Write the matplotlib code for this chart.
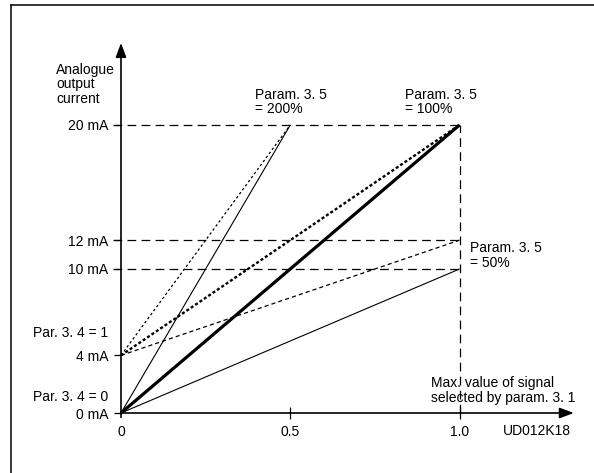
import matplotlib
matplotlib.use("Agg")

import matplotlib.pyplot as plt
from matplotlib.lines import Line2D

plt.rcParams["font.family"] = ["Liberation Sans", "DejaVu Sans"]
plt.rcParams["lines.scale_dashes"] = False

# Datos del grafico (senal normalizada -> corriente de salida en mA)
scale_labels = ["200%", "100%", "50%"]
signal_end = [0.5, 1.0, 1.0]
out_end_zero = [20, 20, 10]   # Par. 3.4 = 0 (0 mA)
out_end_live = [20, 20, 12]   # Par. 3.4 = 1 (4 mA)
offsets = [0, 4]

y_ticks = [0, 4, 10, 12, 20]
y_tick_labels = ["0 mA", "4 mA", "10 mA", "12 mA", "20 mA"]
x_ticks = [0, 0.5, 1.0]
x_tick_labels = ["0", "0.5", "1.0"]
guide_levels = [20, 12, 10]

FS = 10
LS = 1.08

fig = plt.figure(figsize=(5.94, 4.73), dpi=100)
ax = fig.add_axes([121 / 594, 60 / 473, 338.5 / 594, 288 / 473])
ax.set_xlim(0, 1)
ax.set_ylim(0, 20)
for s in ax.spines.values():
    s.set_visible(False)

# lineas guia discontinuas
for lvl in guide_levels:
    ax.plot([-0.024, 1.0], [lvl, lvl], color="k", lw=0.9,
            linestyle=(0, (6.3, 3.8)), clip_on=False)
ax.plot([1.0, 1.0], [0, 20], color="k", lw=0.9, linestyle=(0, (6.3, 3.8)), clip_on=False)

# curvas con offset 0 mA (continuas)
zero_widths = [0.8, 2.3, 0.8]
for xe, ye, w in zip(signal_end, out_end_zero, zero_widths):
    ax.plot([0, xe], [offsets[0], ye], color="k", lw=w, solid_capstyle="butt", clip_on=False)

# curvas con offset 4 mA (punteadas)
live_styles = [(0.9, (1.8, 1.8)), (1.7, (2.2, 1.6)), (0.9, (3.0, 2.2))]
for xe, ye, (w, dash) in zip(signal_end, out_end_live, live_styles):
    ax.plot([0, xe], [offsets[1], ye], color="k", lw=w, linestyle=(0, dash), clip_on=False)

# ejes con flechas
arrow = dict(arrowstyle="-|>,head_length=0.43,head_width=0.16", mutation_scale=20,
             lw=1.2, color="k", shrinkA=0, shrinkB=0)
ax.annotate("", xy=(0, 25.7), xytext=(0, -0.3), arrowprops=arrow, annotation_clip=False)
ax.annotate("", xy=(1.338, 0), xytext=(0, 0), arrowprops=arrow, annotation_clip=False)

ax.set_yticks(y_ticks)
ax.set_yticklabels(y_tick_labels)
ax.set_xticks(x_ticks)
ax.set_xticklabels(x_tick_labels)
ax.tick_params(axis="y", direction="out", length=5, width=0.9, pad=4.3, labelsize=FS)
ax.tick_params(axis="x", direction="inout", length=8.6, width=0.9, pad=4, labelsize=FS)
ax.xaxis.get_major_ticks()[0].tick1line.set_visible(False)

# textos
def px(x, y):
    return (x - 121) / 338.5, (413 - y) / 14.4

ax.text(*px(56, 84.5), "Analogue\noutput\ncurrent", fontsize=FS, ha="left", va="center",
        linespacing=LS, clip_on=False)
for lbl, x0 in zip(scale_labels[:2], [255, 405]):
    ax.text(*px(x0, 102), "Param. 3. 5\n= " + lbl, fontsize=FS, ha="left", va="center",
            linespacing=LS, clip_on=False)
ax.text(*px(469.5, 255.5), "Param. 3. 5\n= " + scale_labels[2], fontsize=FS, ha="left",
        va="center", linespacing=LS, clip_on=False)
ax.text(*px(431, 390.5), "Max. value of signal\nselected by param. 3. 1", fontsize=FS,
        ha="left", va="center", linespacing=LS, clip_on=False)
ax.text(*px(108, 333), "Par. 3. 4 = 1", fontsize=FS, ha="right", va="center", clip_on=False)
ax.text(*px(108, 397), "Par. 3. 4 = 0", fontsize=FS, ha="right", va="center", clip_on=False)
ax.text(*px(503, 431), "UD012K18", fontsize=FS, ha="left", va="center", clip_on=False)

# marco
fig.add_artist(Line2D([11 / 594, 1], [1 - 5 / 473, 1 - 5 / 473], color="k", lw=1.1,
                      transform=fig.transFigure))
fig.add_artist(Line2D([11 / 594, 11 / 594], [0, 1 - 5 / 473], color="k", lw=1.1,
                      transform=fig.transFigure))

fig.savefig("out.png", dpi=100)
